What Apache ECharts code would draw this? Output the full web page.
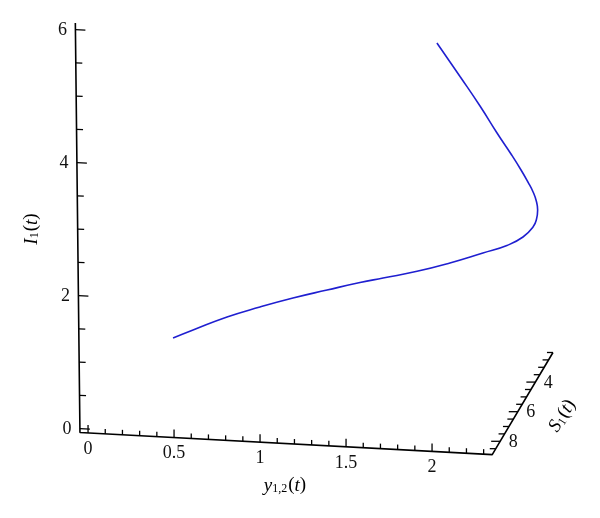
<!DOCTYPE html>
<html><head><meta charset="utf-8">
<script src="https://cdn.jsdelivr.net/npm/echarts@6/dist/echarts.min.js"></script>
<style>html,body{margin:0;padding:0;background:#fff}#c{width:600px;height:518px}</style>
</head><body><div id="c"></div>
<script>
// ---- data ----
const y12 = [0.219,0.336,0.532,0.724,0.914,1.113,1.305,1.437,1.635,1.827,2.017,2.157,2.251,2.310,2.331,2.338,2.336,2.331,2.315,2.291,2.265,2.232,2.187,2.130,2.050];
const S1  = [3.5,3.5,3.45,3.45,3.4,3.4,3.4,3.35,3.35,3.35,3.3,3.3,3.3,3.3,3.3,3.3,3.4,3.65,3.9,4.2,4.8,5.7,6.7,7.8,8.8];
const I1  = [0.197,0.333,0.545,0.722,0.872,1.020,1.159,1.234,1.362,1.514,1.679,1.812,1.952,2.111,2.234,2.371,2.528,2.718,2.920,3.166,3.536,4.048,4.670,5.351,6.066];

const xTickValues = [0,0.5,1,1.5,2];
const xTickLabels = ['0','0.5','1','1.5','2'];
const iTickValues = [0,2,4,6];
const iTickLabels = ['0','2','4','6'];
const sTickValues = [4,6,8];
const sTickLabels = ['4','6','8'];
const X_RANGE = [-0.047, 2.35];
const I_RANGE = [-0.06, 6.1];
const S_RANGE = [2.0, 8.9];
const X_MINOR = 0.1, I_MINOR = 0.5, S_MINOR = 0.5;

// ---- oblique projection (3D -> 2D plane units) ----
const EX = [172, 9.2], EI = [-0.75, -66.5], ES = [-8.8, 14.8]; // screen direction per unit
const KU = 172, KV = 66.5;
function proj(x, s, i) {
  const sd = s - S_RANGE[1];
  const dx = x * EX[0] + i * EI[0] + sd * ES[0];
  const dy = x * EX[1] + i * EI[1] + sd * ES[1];
  return [dx / KU, -dy / KV];
}
function steps(a, b, st) { const r = []; for (let k = Math.ceil(a / st - 1e-9); k * st <= b + 1e-9; k++) r.push(+(k * st).toFixed(6)); return r; }
function isMajor(v, arr) { return arr.some(m => Math.abs(m - v) < 1e-6); }

// ticks: [u, v, dxPx, dyPx]
const ticks = [];
steps(0, X_RANGE[1], X_MINOR).forEach(x => {
  const p = proj(x, S_RANGE[1], I_RANGE[0]);
  const L = isMajor(x, xTickValues) ? 8 : 5;
  ticks.push([p[0], p[1], 0, -L]);
});
steps(0, I_RANGE[1], I_MINOR).forEach(i => {
  const p = proj(X_RANGE[0], S_RANGE[1], i);
  const L = isMajor(i, iTickValues) ? 10 : 6.5;
  ticks.push([p[0], p[1], L * 0.9986, L * 0.0534]);
});
steps(S_RANGE[0], S_RANGE[1], S_MINOR).forEach(s => {
  const p = proj(X_RANGE[1], s, I_RANGE[0]);
  const L = isMajor(s, sTickValues) ? 9 : 6;
  ticks.push([p[0], p[1], -L, 0]);
});

// labels
const labels = [];
xTickValues.forEach((x, k) => { const p = proj(x, S_RANGE[1], I_RANGE[0]); labels.push({ pos: p, text: xTickLabels[k], dx: 0, dy: 16 }); });
iTickValues.forEach((i, k) => { const p = proj(X_RANGE[0], S_RANGE[1], i); labels.push({ pos: p, text: iTickLabels[k], dx: -13, dy: 1 }); });
sTickValues.forEach((s, k) => { const p = proj(X_RANGE[1], s, I_RANGE[0]); labels.push({ pos: p, text: sTickLabels[k], dx: 13, dy: 1 }); });

const FONT = '"Liberation Serif", "DejaVu Serif", serif';
const curve = y12.map((x, k) => proj(x, S1[k], I1[k]));
const axisPath1 = [proj(X_RANGE[0], S_RANGE[1], I_RANGE[1]), proj(X_RANGE[0], S_RANGE[1], I_RANGE[0]), proj(X_RANGE[1], S_RANGE[1], I_RANGE[0]), proj(X_RANGE[1], S_RANGE[0], I_RANGE[0])];

const RICH = {
  i: { fontFamily: FONT, fontStyle: 'italic', fontSize: 19, lineHeight: 22, verticalAlign: 'bottom' },
  n: { fontFamily: FONT, fontSize: 19, lineHeight: 22, verticalAlign: 'bottom' },
  s: { fontFamily: FONT, fontSize: 12, lineHeight: 12, verticalAlign: 'bottom', padding: [0, 1, 0, 0] }
};

const chart = echarts.init(document.getElementById('c'), null, { renderer: 'canvas' });
chart.setOption({
  animation: false,
  backgroundColor: '#fff',
  grid: { left: 0, right: 0, top: 0, bottom: 0 },
  xAxis: { type: 'value', min: -88 / KU, max: 512 / KU, show: false },
  yAxis: { type: 'value', min: -89 / KV, max: 429 / KV, show: false },
  graphic: [
    { type: 'text', x: 30, y: 229, rotation: Math.PI / 2, style: {
        text: '{i|I}{s|1}{n|(}{i|t}{n|)}', align: 'center', verticalAlign: 'middle', rich: RICH } },
    { type: 'text', x: 285, y: 484, style: {
        text: '{i|y}{s|1,2}{n|(}{i|t}{n|)}', align: 'center', verticalAlign: 'middle', rich: RICH } },
    { type: 'text', x: 561, y: 415, rotation: 1.0, style: {
        text: '{i|S}{s|1}{n|(}{i|t}{n|)}', align: 'center', verticalAlign: 'middle', rich: RICH } }
  ],
  series: [
    { type: 'line', data: axisPath1, symbol: 'none', silent: true, lineStyle: { color: '#000', width: 1.6 }, z: 3 },
    { type: 'custom', data: ticks, silent: true, clip: false, z: 3,
      renderItem: (params, api) => {
        const p = api.coord([api.value(0), api.value(1)]);
        return { type: 'line', shape: { x1: p[0], y1: p[1], x2: p[0] + api.value(2), y2: p[1] + api.value(3) }, style: { stroke: '#000', lineWidth: 1.3 } };
      } },
    { type: 'custom', data: labels.map(l => l.pos), silent: true, clip: false, z: 3,
      renderItem: (params, api) => {
        const l = labels[params.dataIndex];
        const p = api.coord([api.value(0), api.value(1)]);
        return { type: 'text', x: p[0] + l.dx, y: p[1] + l.dy, style: { text: l.text, fontFamily: FONT, fontSize: 18, fill: '#111', align: 'center', verticalAlign: 'middle' } };
      } },
    { type: 'line', data: curve, symbol: 'none', smooth: 0.5, silent: true, lineStyle: { color: '#1f1fd0', width: 1.6 }, z: 4 }
  ]
});
</script></body></html>
